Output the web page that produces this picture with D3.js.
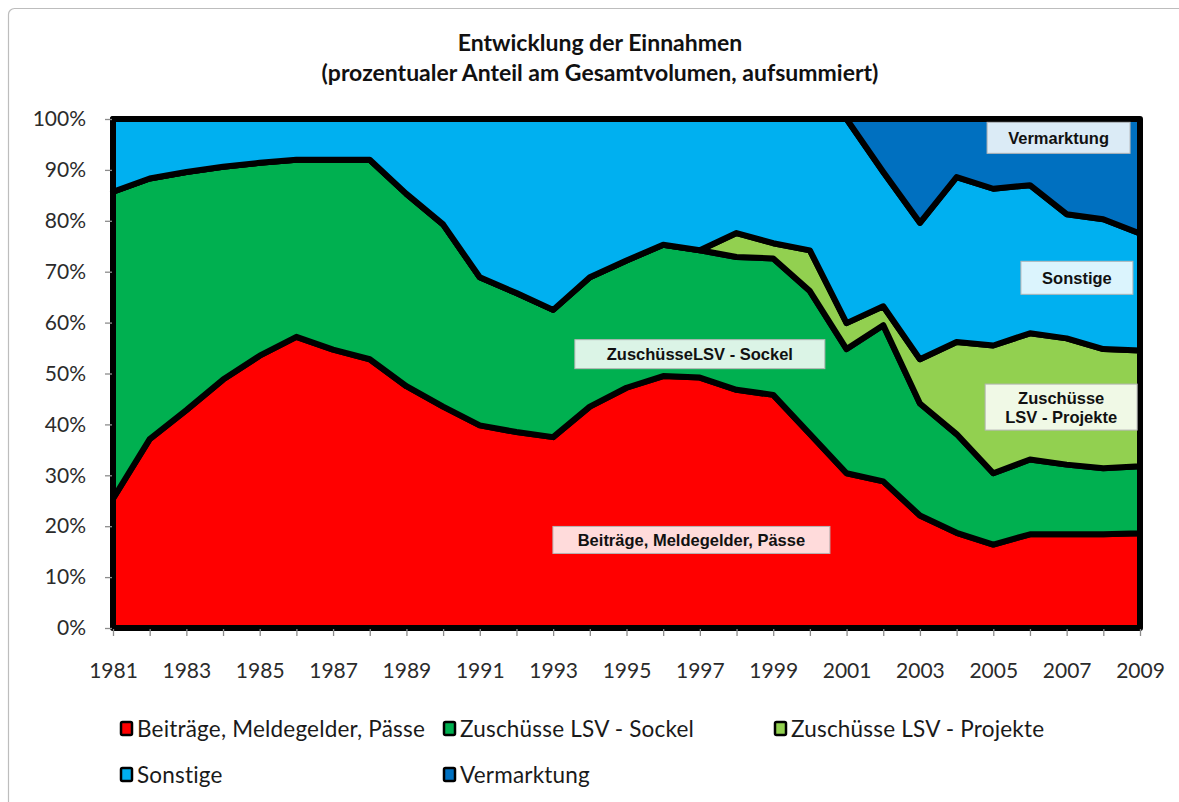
<!DOCTYPE html>
<html>
<head>
<meta charset="utf-8">
<script src="https://cdn.jsdelivr.net/npm/d3@7"></script>
<style>
  html, body { margin: 0; background: #fff; }
  svg { display: block; }
</style>
</head>
<body>
<svg id="chart" width="1179" height="802"></svg>
<script>
// Einnahmen, Anteil in %
const years = [1981, 1982, 1983, 1984, 1985, 1986, 1987, 1988, 1989, 1990,
  1991, 1992, 1993, 1994, 1995, 1996, 1997, 1998, 1999, 2000,
  2001, 2002, 2003, 2004, 2005, 2006, 2007, 2008, 2009];
const beitraege = [25.4, 37.1, 42.8, 48.8, 53.5, 57.2, 54.7, 52.8, 47.5, 43.5,
  39.8, 38.5, 37.5, 43.5, 47.2, 49.5, 49.2, 46.8, 45.8, 38.1,
  30.4, 28.8, 22.1, 18.7, 16.4, 18.4, 18.4, 18.4, 18.6];
const sockel = [60.3, 51.2, 46.8, 41.8, 37.9, 34.8, 37.3, 39.2, 37.8, 35.8,
  29.1, 27.3, 25.0, 25.4, 25.0, 25.8, 25.0, 26.1, 26.8, 28.1,
  24.4, 30.7, 22.0, 19.4, 14.0, 14.7, 13.7, 13.0, 13.2];
const projekte = [0, 0, 0, 0, 0, 0, 0, 0, 0, 0,
  0, 0, 0, 0, 0, 0, 0, 4.7, 3.0, 8.0,
  5.1, 3.7, 8.7, 18.1, 25.1, 24.8, 24.8, 23.4, 22.7];
const sonstige = [14.3, 11.7, 10.4, 9.4, 8.6, 8.0, 8.0, 8.0, 14.7, 20.7,
  31.1, 34.2, 37.5, 31.1, 27.8, 24.7, 25.8, 22.4, 24.4, 25.8,
  40.1, 26.4, 26.8, 32.4, 30.8, 29.1, 24.4, 25.5, 23.0];
const vermarktung = [0, 0, 0, 0, 0, 0, 0, 0, 0, 0,
  0, 0, 0, 0, 0, 0, 0, 0, 0, 0,
  0, 10.4, 20.4, 11.4, 13.7, 13.0, 18.7, 19.7, 22.5];

const seriesKeys = ['beitraege', 'sockel', 'projekte', 'sonstige', 'vermarktung'];
const seriesNames = ['Beiträge, Meldegelder, Pässe', 'Zuschüsse LSV - Sockel',
  'Zuschüsse LSV - Projekte', 'Sonstige', 'Vermarktung'];
const seriesColors = ['#ff0000', '#00b050', '#92d050', '#00b0f0', '#0070c0'];
const yTicks = [0, 0.1, 0.2, 0.3, 0.4, 0.5, 0.6, 0.7, 0.8, 0.9, 1];

const rows = years.map((yr, i) => ({
  year: yr, beitraege: beitraege[i], sockel: sockel[i], projekte: projekte[i],
  sonstige: sonstige[i], vermarktung: vermarktung[i]
}));

const svg = d3.select('#chart');
const W = 1179, H = 802;
const m = { left: 113, right: 1140, top: 119, bottom: 628 };

// outer chart frame
svg.append('rect').attr('x', 8.5).attr('y', 8.5).attr('width', W).attr('height', H)
  .attr('rx', 6).attr('fill', '#fff').attr('stroke', '#bdbdbd').attr('stroke-width', 1.2);

// title
const title = svg.append('text').attr('text-anchor', 'middle')
  .attr('font-family', 'Lato, sans-serif').attr('font-weight', 700)
  .attr('font-size', 23).attr('fill', '#111');
title.append('tspan').attr('x', 600).attr('y', 51).text('Entwicklung der Einnahmen');
title.append('tspan').attr('x', 600).attr('y', 81).text('(prozentualer Anteil am Gesamtvolumen, aufsummiert)');

const x = d3.scaleLinear().domain([years[0], years[years.length - 1]]).range([m.left, m.right]);
const y = d3.scaleLinear().domain([0, 1]).range([m.bottom, m.top]);

const stack = d3.stack().keys(seriesKeys).offset(d3.stackOffsetExpand);
const layers = stack(rows);

const area = d3.area()
  .x(d => x(d.data.year))
  .y0(d => y(d[0]))
  .y1(d => y(d[1]));

svg.append('g').selectAll('path').data(layers).join('path')
  .attr('d', area)
  .attr('fill', (d, i) => seriesColors[i])
  .attr('stroke', '#000').attr('stroke-width', 6)
  .attr('stroke-linejoin', 'round');

// axes
const yAxis = svg.append('g').attr('transform', `translate(${m.left - 1},0)`)
  .call(d3.axisLeft(y).tickValues(yTicks).tickSize(7).tickPadding(19)
    .tickFormat(d => Math.round(d * 100) + '%'));
const xAxis = svg.append('g').attr('transform', `translate(0,${m.bottom + 1})`)
  .call(d3.axisBottom(x).tickValues(years).tickSize(7).tickPadding(27)
    .tickFormat(d => (d - years[0]) % 2 === 0 ? String(d) : ''));
[yAxis, xAxis].forEach(ax => {
  ax.select('.domain').remove();
  ax.selectAll('line').attr('stroke', '#8c8c8c').attr('stroke-width', 1.3);
  ax.selectAll('text').attr('font-family', 'Lato, sans-serif')
    .attr('font-size', 21).attr('fill', '#2b2b2b');
});

// data labels in boxes
const labels = [
  { lines: ['Vermarktung'], year: 2006.78, val: 0.963, w: 143, h: 31 },
  { lines: ['Sonstige'], year: 2007.28, val: 0.688, w: 112, h: 33 },
  { lines: ['Zuschüsse', 'LSV - Projekte'], year: 2006.85, val: 0.434, w: 152, h: 46 },
  { lines: ['ZuschüsseLSV - Sockel'], year: 1997.0, val: 0.538, w: 250, h: 29 },
  { lines: ['Beiträge, Meldegelder, Pässe'], year: 1996.77, val: 0.173, w: 277, h: 27 }
];
const lg = svg.append('g').selectAll('g').data(labels).join('g')
  .attr('transform', d => `translate(${x(d.year)},${y(d.val)})`);
lg.append('rect')
  .attr('x', d => -d.w / 2).attr('y', d => -d.h / 2)
  .attr('width', d => d.w).attr('height', d => d.h)
  .attr('fill', '#fff').attr('fill-opacity', 0.86)
  .attr('stroke', '#b5b5b5').attr('stroke-width', 1);
lg.each(function (d) {
  const t = d3.select(this).append('text').attr('text-anchor', 'middle')
    .attr('font-family', 'Liberation Sans, Arial, sans-serif').attr('font-weight', 700)
    .attr('font-size', 16.5).attr('fill', '#111');
  const lh = 19;
  d.lines.forEach((s, i) => {
    t.append('tspan').attr('x', 0)
      .attr('y', (i - (d.lines.length - 1) / 2) * lh + 6).text(s);
  });
});

// legend
const legendItems = [
  { i: 0, lx: 121, ly: 737 }, { i: 1, lx: 444, ly: 737 }, { i: 2, lx: 775, ly: 737 },
  { i: 3, lx: 121, ly: 783 }, { i: 4, lx: 444, ly: 783 }
];
const leg = svg.append('g').selectAll('g').data(legendItems).join('g')
  .attr('transform', d => `translate(${d.lx},${d.ly})`);
leg.append('rect').attr('x', 0).attr('y', -15).attr('width', 11).attr('height', 13)
  .attr('rx', 1.5).attr('fill', d => seriesColors[d.i])
  .attr('stroke', '#000').attr('stroke-width', 2.5);
leg.append('text').attr('x', 16).attr('y', 0)
  .attr('font-family', 'Lato, sans-serif').attr('font-size', 22.5)
  .attr('letter-spacing', 0.2).attr('fill', '#1a1a1a')
  .text(d => seriesNames[d.i]);
</script>
</body>
</html>
